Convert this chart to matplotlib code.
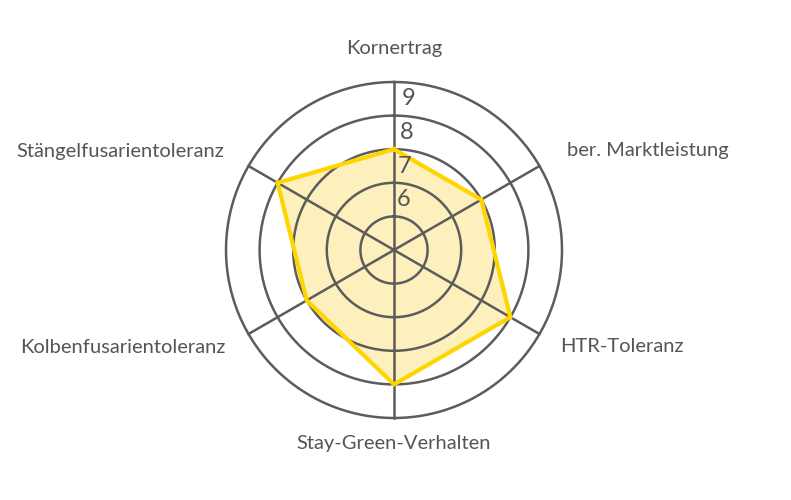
import numpy as np
import matplotlib.pyplot as plt

plt.rcParams['font.family'] = ['Lato', 'DejaVu Sans']

merkmale = ["Kornertrag", "ber. Marktleistung", "HTR-Toleranz",
            "Stay-Green-Verhalten", "Kolbenfusarientoleranz", "Stängelfusarientoleranz"]
werte = [7, 7, 8, 8, 7, 8]
ringe = [5, 6, 7, 8, 9]
ring_labels = ["6", "7", "8", "9"]

grau = "#5c5c5c"
text_grau = "#555555"
gelb = "#ffd500"
gelb_hell = "#fdf0bd"

r_min, r_max = 4, 9

fig = plt.figure(figsize=(7.91, 5.0), dpi=100)
ax = fig.add_axes([0.2857, 0.164, 0.4248, 0.672], projection="polar")
ax.set_theta_zero_location("N")
ax.set_theta_direction(-1)
ax.set_ylim(r_min, r_max)
ax.set_xticks([])
ax.set_yticks([])
ax.grid(False)
ax.spines["polar"].set_visible(False)

n = len(merkmale)
winkel = np.linspace(0, 2 * np.pi, n, endpoint=False)

# Gitter
t = np.linspace(0, 2 * np.pi, 500)
for r in ringe:
    ax.plot(t, np.full_like(t, r), color=grau, lw=1.8, zorder=2, clip_on=False)
for a in winkel:
    ax.plot([a, a], [r_min, r_max], color=grau, lw=1.8, zorder=2, clip_on=False)

# Datenpolygon
w = np.append(winkel, winkel[0])
v = np.append(werte, werte[0])
ax.fill(w, v, color=gelb_hell, zorder=1)
ax.plot(w, v, color=gelb, lw=3, zorder=3, solid_joinstyle="miter")

# Skalenbeschriftung
for lab in ring_labels:
    ax.text(0.05, float(lab) - 0.5, lab, fontsize=17, color=text_grau,
            ha="left", va="center", zorder=4)

# Achsenbeschriftungen
pos = [(10.0, "center"), (9.95, "left"), (9.72, "left"),
       (9.75, "center"), (9.8, "right"), (9.85, "right")]
for a, name, (r, ha) in zip(winkel, merkmale, pos):
    ax.text(a, r, name, fontsize=14.5, color=text_grau, ha=ha, va="center",
            clip_on=False)

fig.savefig("out.png", dpi=100, facecolor="white")
